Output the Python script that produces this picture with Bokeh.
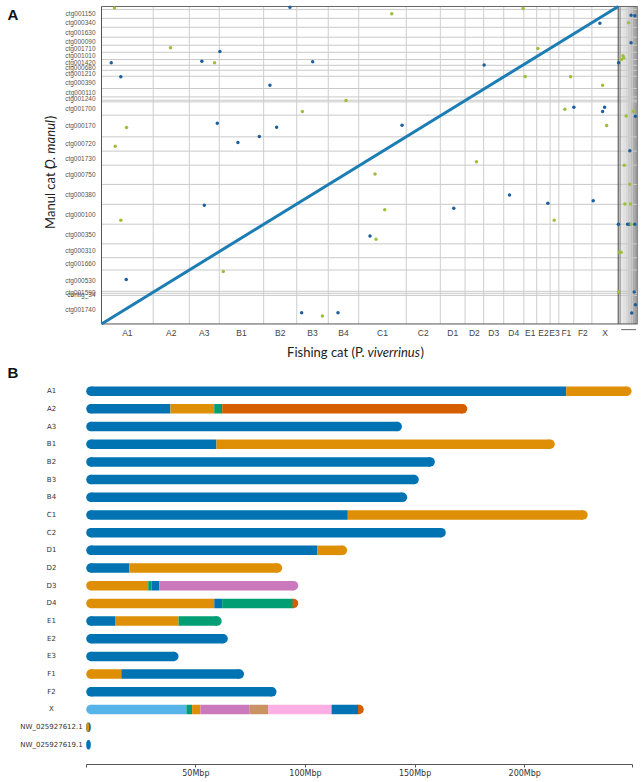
import numpy as np
from bokeh.plotting import figure
from bokeh.models import Range1d, FixedTicker, LinearAxis
from bokeh.embed import file_html
from bokeh.resources import INLINE
from bokeh.core.properties import value

# ---------------- data : panel B (fishing cat chromosomes painted by manul contigs) -------------
chroms = ["A1", "A2", "A3", "B1", "B2", "B3", "B4", "C1", "C2", "D1", "D2", "D3", "D4",
          "E1", "E2", "E3", "F1", "F2", "X"]
scaffolds = ["NW_025927612.1", "NW_025927619.1"]
bar_rows = chroms + scaffolds

seg_row = ["A1", "A1",
           "A2", "A2", "A2", "A2",
           "A3",
           "B1", "B1",
           "B2", "B3", "B4",
           "C1", "C1",
           "C2",
           "D1", "D1",
           "D2", "D2",
           "D3", "D3", "D3", "D3",
           "D4", "D4", "D4", "D4",
           "E1", "E1", "E1",
           "E2", "E3",
           "F1", "F1",
           "F2",
           "X", "X", "X", "X", "X", "X", "X", "X",
           "NW_025927612.1", "NW_025927612.1",
           "NW_025927619.1"]
seg_start = [0, 218.9,
             0, 38.4, 58.4, 62.0,
             0,
             0, 59.4,
             0, 0, 0,
             0, 119.3,
             0,
             0, 105.3,
             0, 19.7,
             0, 28.3, 29.8, 33.4,
             0, 58.4, 62.0, 94.2,
             0, 13.4, 42.1,
             0, 0,
             0, 16.0,
             0,
             0, 45.7, 48.3, 52.1, 74.6, 83.1, 111.9, 124.0,
             0, 0.9,
             0]
seg_end = [218.9, 248.7,
           38.4, 58.4, 62.0, 173.8,
           144.0,
           59.4, 213.7,
           159.0, 151.7, 146.4,
           119.3, 228.7,
           164.0,
           105.3, 119.0,
           19.7, 89.4,
           28.3, 29.8, 33.4, 96.7,
           58.4, 62.0, 94.2, 96.7,
           13.4, 42.1, 61.8,
           64.6, 42.1,
           16.0, 72.0,
           86.8,
           45.7, 48.3, 52.1, 74.6, 83.1, 111.9, 124.0, 126.6,
           0.9, 2.1,
           2.1]
seg_color = ["blue", "orange",
             "blue", "orange", "green", "vermillion",
             "blue",
             "blue", "orange",
             "blue", "blue", "blue",
             "blue", "orange",
             "blue",
             "blue", "orange",
             "blue", "orange",
             "orange", "green", "blue", "purple",
             "orange", "blue", "green", "vermillion",
             "blue", "orange", "green",
             "blue", "blue",
             "orange", "blue",
             "blue",
             "skyblue", "green", "orange", "purple", "brown", "pink", "blue", "vermillion",
             "orange", "blue",
             "blue"]
palette = {"blue": "#0173b2", "orange": "#de8f05", "green": "#029e73", "vermillion": "#d55e00",
           "purple": "#cc78bc", "brown": "#ca9161", "pink": "#fbafe4", "skyblue": "#56b4e9"}

b_axis_end = 249
b_ticks = [0, 50, 100, 150, 200, 249]
b_tick_labels = ["", "50Mbp", "100Mbp", "150Mbp", "200Mbp", ""]

# ---------------- data : panel A (dot plot) ----------------
contig_names = ["ctg001740", "contig_34", "ctg001590", "ctg000530", "ctg001660", "ctg000310",
                "ctg000350", "ctg000100", "ctg000380", "ctg000750", "ctg001730", "ctg000720",
                "ctg000170", "ctg001700", "", "ctg001240", "ctg000110", "ctg000390", "ctg001210",
                "ctg000680", "ctg001420", "ctg001010", "ctg001710", "ctg000090", "ctg001630",
                "ctg000340", "ctg001150", ""]
contig_len = [224, 16, 16, 167, 96, 109, 154, 156, 156, 151, 110, 112, 170, 104, 13, 26, 66, 96,
              47, 39, 45, 57, 55, 63, 78, 70, 70, 23]
unplaced_span = 93

blue_x = [906.6, 569.6, 46.7, 482.9, 1015.9, 92.9, 810.3, 557.0, 842.6, 759.3, 656.2, 2397.7,
          1840.6, 2272.5, 2420.3, 2410.7, 1445.8, 494.5, 118.9, 962.9, 1137.7, 1291.8, 1694.8,
          1962.9, 2147.3, 2365.4]
blue_y = [2483, 2137, 2048, 2059, 2056, 1939, 1871, 1574, 1543, 1470, 1423, 2358, 2030, 1699,
          1699, 1665, 1558, 930, 349, 88, 88, 690, 907, 1011, 946, 966]
green_x = [62.6, 332.2, 544.0, 1176.2, 966.3, 120.4, 66.0, 1396.2, 2028.4, 2099.2, 2038.1,
           2256.6, 2410.7, 2229.2, 2430.0, 1804.0, 92.9, 586.0, 1062.6, 1315.8, 1362.5, 1320.6,
           2177.7]
green_y = [2478, 2166, 2048, 1751, 1665, 1540, 1394, 2432, 2473, 2160, 1941, 1939, 1871, 1683,
           1556, 1271, 813, 411, 63, 1175, 896, 665, 813]
# hits on unplaced scaffolds (offset beyond the last chromosome, Mbp)
ublue_x = [62, 80, 62, 2, 83, 56, 1, 45, 55, 80, 77, 83, 65]
ublue_y = [2421, 2416, 2205, 2048, 1629, 1357, 782, 782, 782, 782, 250, 151, 86]
ugreen_x = [50, 23, 15, 27, 73, 38, 29, 56, 32, 60, 62, 6, 14, 2]
ugreen_y = [2361, 2103, 2074, 2088, 1668, 1631, 1245, 1095, 941, 941, 782, 563, 563, 250]

# ---------------- derived ----------------
chrom_len = [max(e for r, e in zip(seg_row, seg_end) if r == c) for c in chroms]
chrom_edges = np.concatenate([[0], np.cumsum(chrom_len)])
chrom_total = float(chrom_edges[-1])
chrom_mid = [float((chrom_edges[i] + chrom_edges[i + 1]) / 2) for i in range(len(chroms))]
contig_edges = np.concatenate([[0], np.cumsum(contig_len)])
contig_total = float(contig_edges[-1])
contig_mid = [float((contig_edges[i] + contig_edges[i + 1]) / 2) for i in range(len(contig_len))]
xmaxA = chrom_total + unplaced_span

# ---------------- page geometry (pixels) ----------------
CW, CH = 640, 780
BORDER_B = 14
FB = CH - BORDER_B                     # frame bottom (px)
A_X0, A_X1 = 101.0, 617.7              # panel A: x of 0 and of chromosome end
A_Y0, A_Y1 = 324.3, 6.0                # panel A: y of 0 and of contig total
sxA = (A_X1 - A_X0) / chrom_total
syA = (A_Y0 - A_Y1) / contig_total
B_X0, B_X1 = 85.7, 631.7               # panel B: x of 0 and axis end
B_Y0, B_ROW = 391.7, 17.73             # panel B: first row y and row pitch
sxB = (B_X1 - B_X0) / b_axis_end
BAR_PX = 9.5


def A_x(px):
    return (px - A_X0) / sxA


def A_y(py):
    return (A_Y0 - py) / syA


def B_x(px):
    return (px - B_X0) / sxB


def B_y(py):
    return (py - B_Y0) / B_ROW


p = figure(width=CW, height=CH, x_range=Range1d(A_x(0), A_x(CW)), y_range=Range1d(A_y(FB), A_y(0)),
           output_backend="svg", toolbar_location=None, x_axis_location=None, y_axis_location=None,
           min_border_left=0, min_border_right=0, min_border_top=0, min_border_bottom=BORDER_B)
p.extra_x_ranges = {"b": Range1d(B_x(0), B_x(CW))}
p.extra_y_ranges = {"b": Range1d(start=B_y(FB), end=B_y(0))}
p.grid.visible = False
p.outline_line_color = None

# ======================= panel A =======================
shades = ["#efefef", "#e8e8e8", "#e0e0e0", "#d6d6d6", "#cbcbcb", "#bdbdbd", "#acacac", "#979797"]
sw = unplaced_span / len(shades)
p.quad(left=[chrom_total + i * sw for i in range(len(shades))],
       right=[chrom_total + (i + 1) * sw for i in range(len(shades))],
       bottom=0, top=contig_total, fill_color=shades, line_color=None)

hy = [float(v) for v in contig_edges[1:-1]]
p.segment(x0=0, x1=xmaxA, y0=hy, y1=hy, line_color="#c9c9c9", line_width=1)
vx = [float(v) for v in chrom_edges[1:-1]]
p.segment(x0=vx, x1=vx, y0=0, y1=contig_total, line_color="#cdcdcd", line_width=1)
p.segment(x0=[chrom_total, chrom_total + 9], x1=[chrom_total, chrom_total + 9],
          y0=0, y1=contig_total, line_color=["#444444", "#777777"], line_width=1)
# frame of the dot plot
p.segment(x0=[0, 0, 0, xmaxA], x1=[0, xmaxA, xmaxA, xmaxA], y0=[0, 0, contig_total, 0],
          y1=[contig_total, 0, contig_total, contig_total],
          line_color=["#555555", "#555555", "#666666", "#888888"], line_width=1)

p.line(x=[0, chrom_total], y=[0, contig_total], line_color="#1c7db5", line_width=3)

p.scatter(x=blue_x + [chrom_total + v for v in ublue_x], y=blue_y + ublue_y,
          size=3.5, fill_color="#1d5f9c", line_color=None)
p.scatter(x=green_x + [chrom_total + v for v in ugreen_x], y=green_y + ugreen_y,
          size=3.5, fill_color="#9dbf3b", line_color=None)

# chromosome names (x) and contig names (y)
p.text(x=chrom_mid, y=[A_y(333)] * len(chroms), text=chroms, text_align="center",
       text_baseline="middle", text_font=value("Liberation Sans"), text_font_size="8.5px",
       text_color="#444444")
# squeezed label under the unplaced-scaffold strip
p.segment(x0=[chrom_total + 14], x1=[chrom_total + 86], y0=[A_y(330)], y1=[A_y(330)],
          line_color="#666666", line_width=1)
lab_y = [m for m, n in zip(contig_mid, contig_names) if n]
lab_t = [n for n in contig_names if n]
p.text(x=[A_x(95)] * len(lab_t), y=lab_y, text=lab_t, text_align="right", text_baseline="middle",
       text_font=value("Liberation Sans"), text_font_size="6.5px", text_color="#555555")

p.text(x=[A_x(7)], y=[A_y(14)], text=["A"], text_font=value("Liberation Sans"), text_font_style="bold",
       text_font_size="15px", text_baseline="middle", text_align="left", text_color="#111111")
TF = value("Lato")
p.text(x=[A_x(364)], y=[A_y(352)], text=["Fishing cat (P."], text_font=TF, text_font_size="13px",
       text_baseline="middle", text_align="right", text_color="#222222")
p.text(x=[A_x(367)], y=[A_y(352)], text=["viverrinus"], text_font=TF, text_font_size="13px",
       text_font_style="italic", text_baseline="middle", text_align="left", text_color="#222222")
p.text(x=[A_x(420)], y=[A_y(352)], text=[")"], text_font=TF, text_font_size="13px",
       text_baseline="middle", text_align="left", text_color="#222222")
rot = np.pi / 2
p.text(x=[A_x(49)], y=[A_y(229)], text=["Manul cat ("], angle=rot, text_font=TF, text_font_size="13px",
       text_baseline="middle", text_align="left", text_color="#222222")
p.text(x=[A_x(49)], y=[A_y(169)], text=["O. manul"], angle=rot, text_font=TF, text_font_size="13px",
       text_font_style="italic", text_baseline="middle", text_align="left", text_color="#222222")
p.text(x=[A_x(49)], y=[A_y(119)], text=[")"], angle=rot, text_font=TF, text_font_size="13px",
       text_baseline="middle", text_align="left", text_color="#222222")

# ======================= panel B =======================
r = (BAR_PX / 2) / sxB
cap_x, cap_y, cap_c = [], [], []
sx0, sx1, sy, sc = [], [], [], []
ex, ey, ew, ec = [], [], [], []
for i, rowname in enumerate(bar_rows):
    segs = [(s, e, palette[c]) for rr, s, e, c in zip(seg_row, seg_start, seg_end, seg_color) if rr == rowname]
    x0 = min(s for s, e, c in segs)
    x1 = max(e for s, e, c in segs)
    if x1 - x0 > 2 * r:
        cap_x += [x0 + r, x1 - r]
        cap_y += [i, i]
        cap_c += [segs[0][2], segs[-1][2]]
        for s, e, c in segs:
            a, b = max(s, x0 + r), min(e, x1 - r)
            if b > a:
                sx0.append(a); sx1.append(b); sy.append(i); sc.append(c)
    else:
        ex.append((x0 + x1) / 2); ey.append(i); ew.append(x1 - x0); ec.append(segs[-1][2])
        if len(segs) > 1:
            w0 = (segs[0][1] - x0) * 1.5
            ex.append(x0 + w0 / 2); ey.append(i); ew.append(w0); ec.append(segs[0][2])

p.scatter(x=cap_x, y=cap_y, size=BAR_PX, fill_color=cap_c, line_color=None,
          x_range_name="b", y_range_name="b")
p.segment(x0=sx0, x1=sx1, y0=sy, y1=sy, line_color=sc, line_width=BAR_PX, line_cap="butt",
          x_range_name="b", y_range_name="b")
p.ellipse(x=ex, y=ey, width=ew, height=BAR_PX / B_ROW, fill_color=ec, line_color=None,
          x_range_name="b", y_range_name="b")

p.text(x=[B_x(51)] * len(bar_rows), y=list(range(len(bar_rows))), text=bar_rows, text_align="center",
       text_baseline="middle", text_font=value("DejaVu Sans"), text_font_size="7px",
       text_color="#333333", x_range_name="b", y_range_name="b")
p.text(x=[B_x(7)], y=[B_y(373)], text=["B"], text_font=value("Liberation Sans"), text_font_style="bold",
       text_font_size="15px", text_baseline="middle", text_align="left", text_color="#111111",
       x_range_name="b", y_range_name="b")

axB = LinearAxis(x_range_name="b", ticker=FixedTicker(ticks=b_ticks), bounds=(0, b_axis_end))
axB.major_label_overrides = {t: l for t, l in zip(b_ticks, b_tick_labels)}
axB.minor_tick_line_color = None
axB.major_tick_in = 0
axB.major_tick_out = 3
axB.axis_line_color = "#555555"
axB.major_tick_line_color = "#555555"
axB.major_label_text_font = "DejaVu Sans"
axB.major_label_text_font_size = "8px"
axB.major_label_text_color = "#333333"
axB.major_label_standoff = 1
p.add_layout(axB, "below")

open("out.html", "w").write(file_html(p, INLINE))
